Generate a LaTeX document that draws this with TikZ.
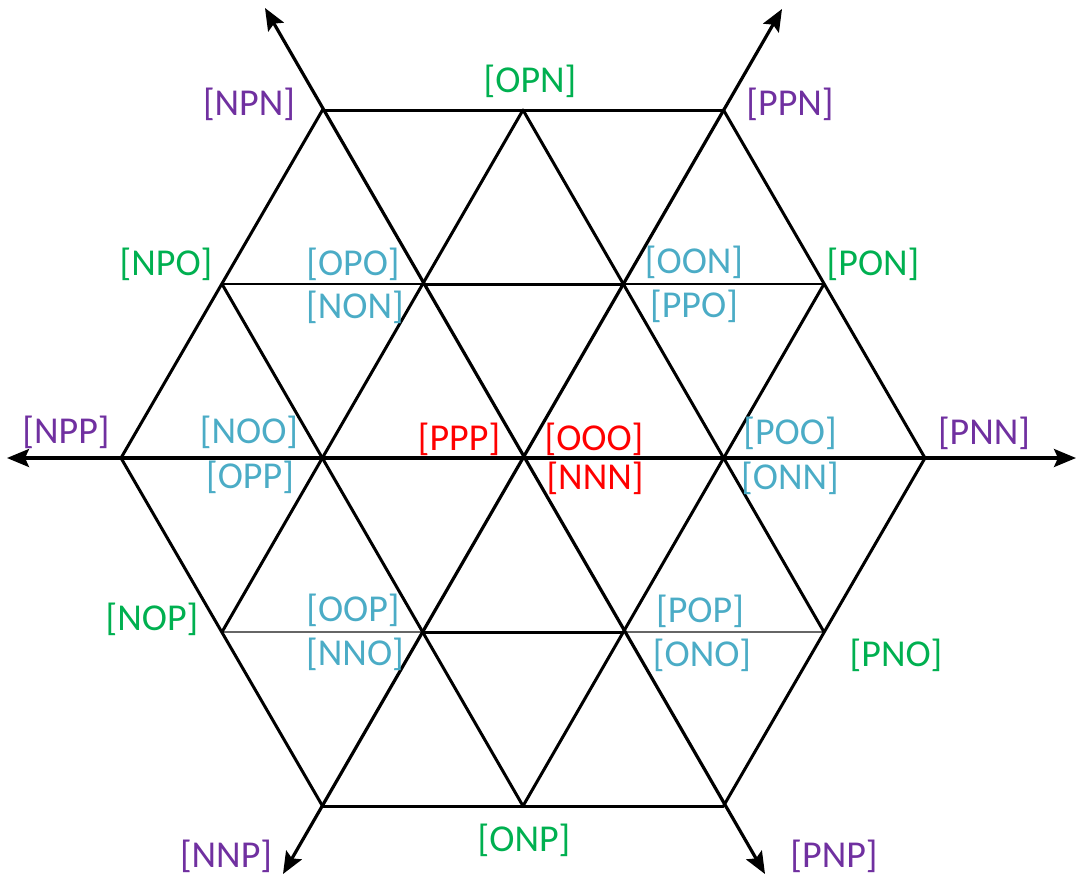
\documentclass[tikz,border=0pt]{standalone}
\usepackage{fontspec}
\setmainfont{Carlito}
\usetikzlibrary{arrows.meta}
\definecolor{cpurple}{HTML}{7030A0}
\definecolor{cgreen}{HTML}{00B050}
\definecolor{cblue}{HTML}{4BACC6}
\definecolor{cred}{HTML}{FF0000}
\tikzset{
  grid/.style={line width=3pt, black, line cap=round},
  thingrid/.style={line width=2pt, black},
  graygrid/.style={line width=2.2pt, black!60},
  axis/.style={line width=3.2pt, black, {Stealth[length=22pt,width=18pt,inset=4pt]}-{Stealth[length=22pt,width=18pt,inset=4pt]}},
  lbl/.style={font=\fontsize{38}{42}\selectfont, inner sep=0pt, anchor=center},
  vtx/.style={lbl, text=cpurple},
  edg/.style={lbl, text=cgreen},
  inr/.style={lbl, text=cblue},
  ctr/.style={lbl, text=cred}
}
\begin{document}
\begin{tikzpicture}[x=1pt,y=-1pt]
\useasboundingbox (0,0) rectangle (1077,879);
% lattice points
\coordinate (A1) at (322.5,110);
\coordinate (A2) at (523,110);
\coordinate (A3) at (723.5,110);
\coordinate (B1) at (222,284);
\coordinate (B2) at (423.5,284);
\coordinate (B3) at (623.5,284);
\coordinate (B4) at (824,284);
\coordinate (C1) at (121,458);
\coordinate (C2) at (322.5,458);
\coordinate (C3) at (523,458);
\coordinate (C4) at (723.5,458);
\coordinate (C5) at (925,458);
\coordinate (D1) at (222,632);
\coordinate (D2) at (423.5,632);
\coordinate (D3) at (623.5,632);
\coordinate (D4) at (824,632);
\coordinate (E1) at (322.5,806);
\coordinate (E2) at (523,806);
\coordinate (E3) at (723.5,806);
% axis tips
\coordinate (TL) at (265,8);
\coordinate (TR) at (782,9);
\coordinate (BL) at (283,874);
\coordinate (BR) at (765,874);
\coordinate (LL) at (7,458);
\coordinate (RR) at (1076,458);
% horizontal lines
\draw[grid] (A1) -- (A3);
\draw[thingrid] (B1) -- (B2);
\draw[grid] (B2) -- (B3);
\draw[thingrid] (B3) -- (B4);
\draw[graygrid] (D1) -- (D2);
\draw[grid] (D2) -- (D3);
\draw[graygrid] (D3) -- (D4);
\draw[grid] (E1) -- (E3);
% up-right lines
\draw[grid] (C1) -- (A1);
\draw[grid] (D1) -- (A2);
\draw[grid] (E2) -- (B4);
\draw[grid] (E3) -- (C5);
% up-left lines
\draw[grid] (A3) -- (C5);
\draw[grid] (A2) -- (D4);
\draw[grid] (B1) -- (E2);
\draw[grid] (C1) -- (E1);
% axes
\draw[axis] (LL) -- (RR);
\draw[axis] (TL) -- (BR);
\draw[axis] (BL) -- (TR);
% labels
\node[vtx] (npn) at (249,104) {[NPN]};
\node[edg] (opn) at (530,81) {[OPN]};
\node[vtx] (ppn) at (790,104) {[PPN]};
\node[edg] (npo) at (166,264) {[NPO]};
\node[inr] (opo) at (353,264) {[OPO]};
\node[inr] (non) at (355,307) {[NON]};
\node[inr] (oon) at (694,262) {[OON]};
\node[inr] (ppo) at (694,306) {[PPO]};
\node[edg] (pon) at (873,264) {[PON]};
\node[vtx] (npp) at (66,432) {[NPP]};
\node[inr] (noo) at (249,432) {[NOO]};
\node[inr] (opp) at (250,477) {[OPP]};
\node[ctr] (ppp) at (459,439) {[PPP]};
\node[ctr] (ooo) at (594,439) {[OOO]};
\node[ctr] (nnn) at (595,478) {[NNN]};
\node[inr] (poo) at (790,433) {[POO]};
\node[inr] (onn) at (790,478) {[ONN]};
\node[vtx] (pnn) at (984,433) {[PNN]};
\node[edg] (nop) at (152,619) {[NOP]};
\node[inr] (oop) at (353,610) {[OOP]};
\node[inr] (nno) at (355,654) {[NNO]};
\node[inr] (pop) at (700,611) {[POP]};
\node[inr] (ono) at (702,655) {[ONO]};
\node[edg] (pno) at (896,655) {[PNO]};
\node[edg] (onp) at (524,840) {[ONP]};
\node[vtx] (nnp) at (226,856) {[NNP]};
\node[vtx] (pnp) at (834,856) {[PNP]};
\end{tikzpicture}
\end{document}
